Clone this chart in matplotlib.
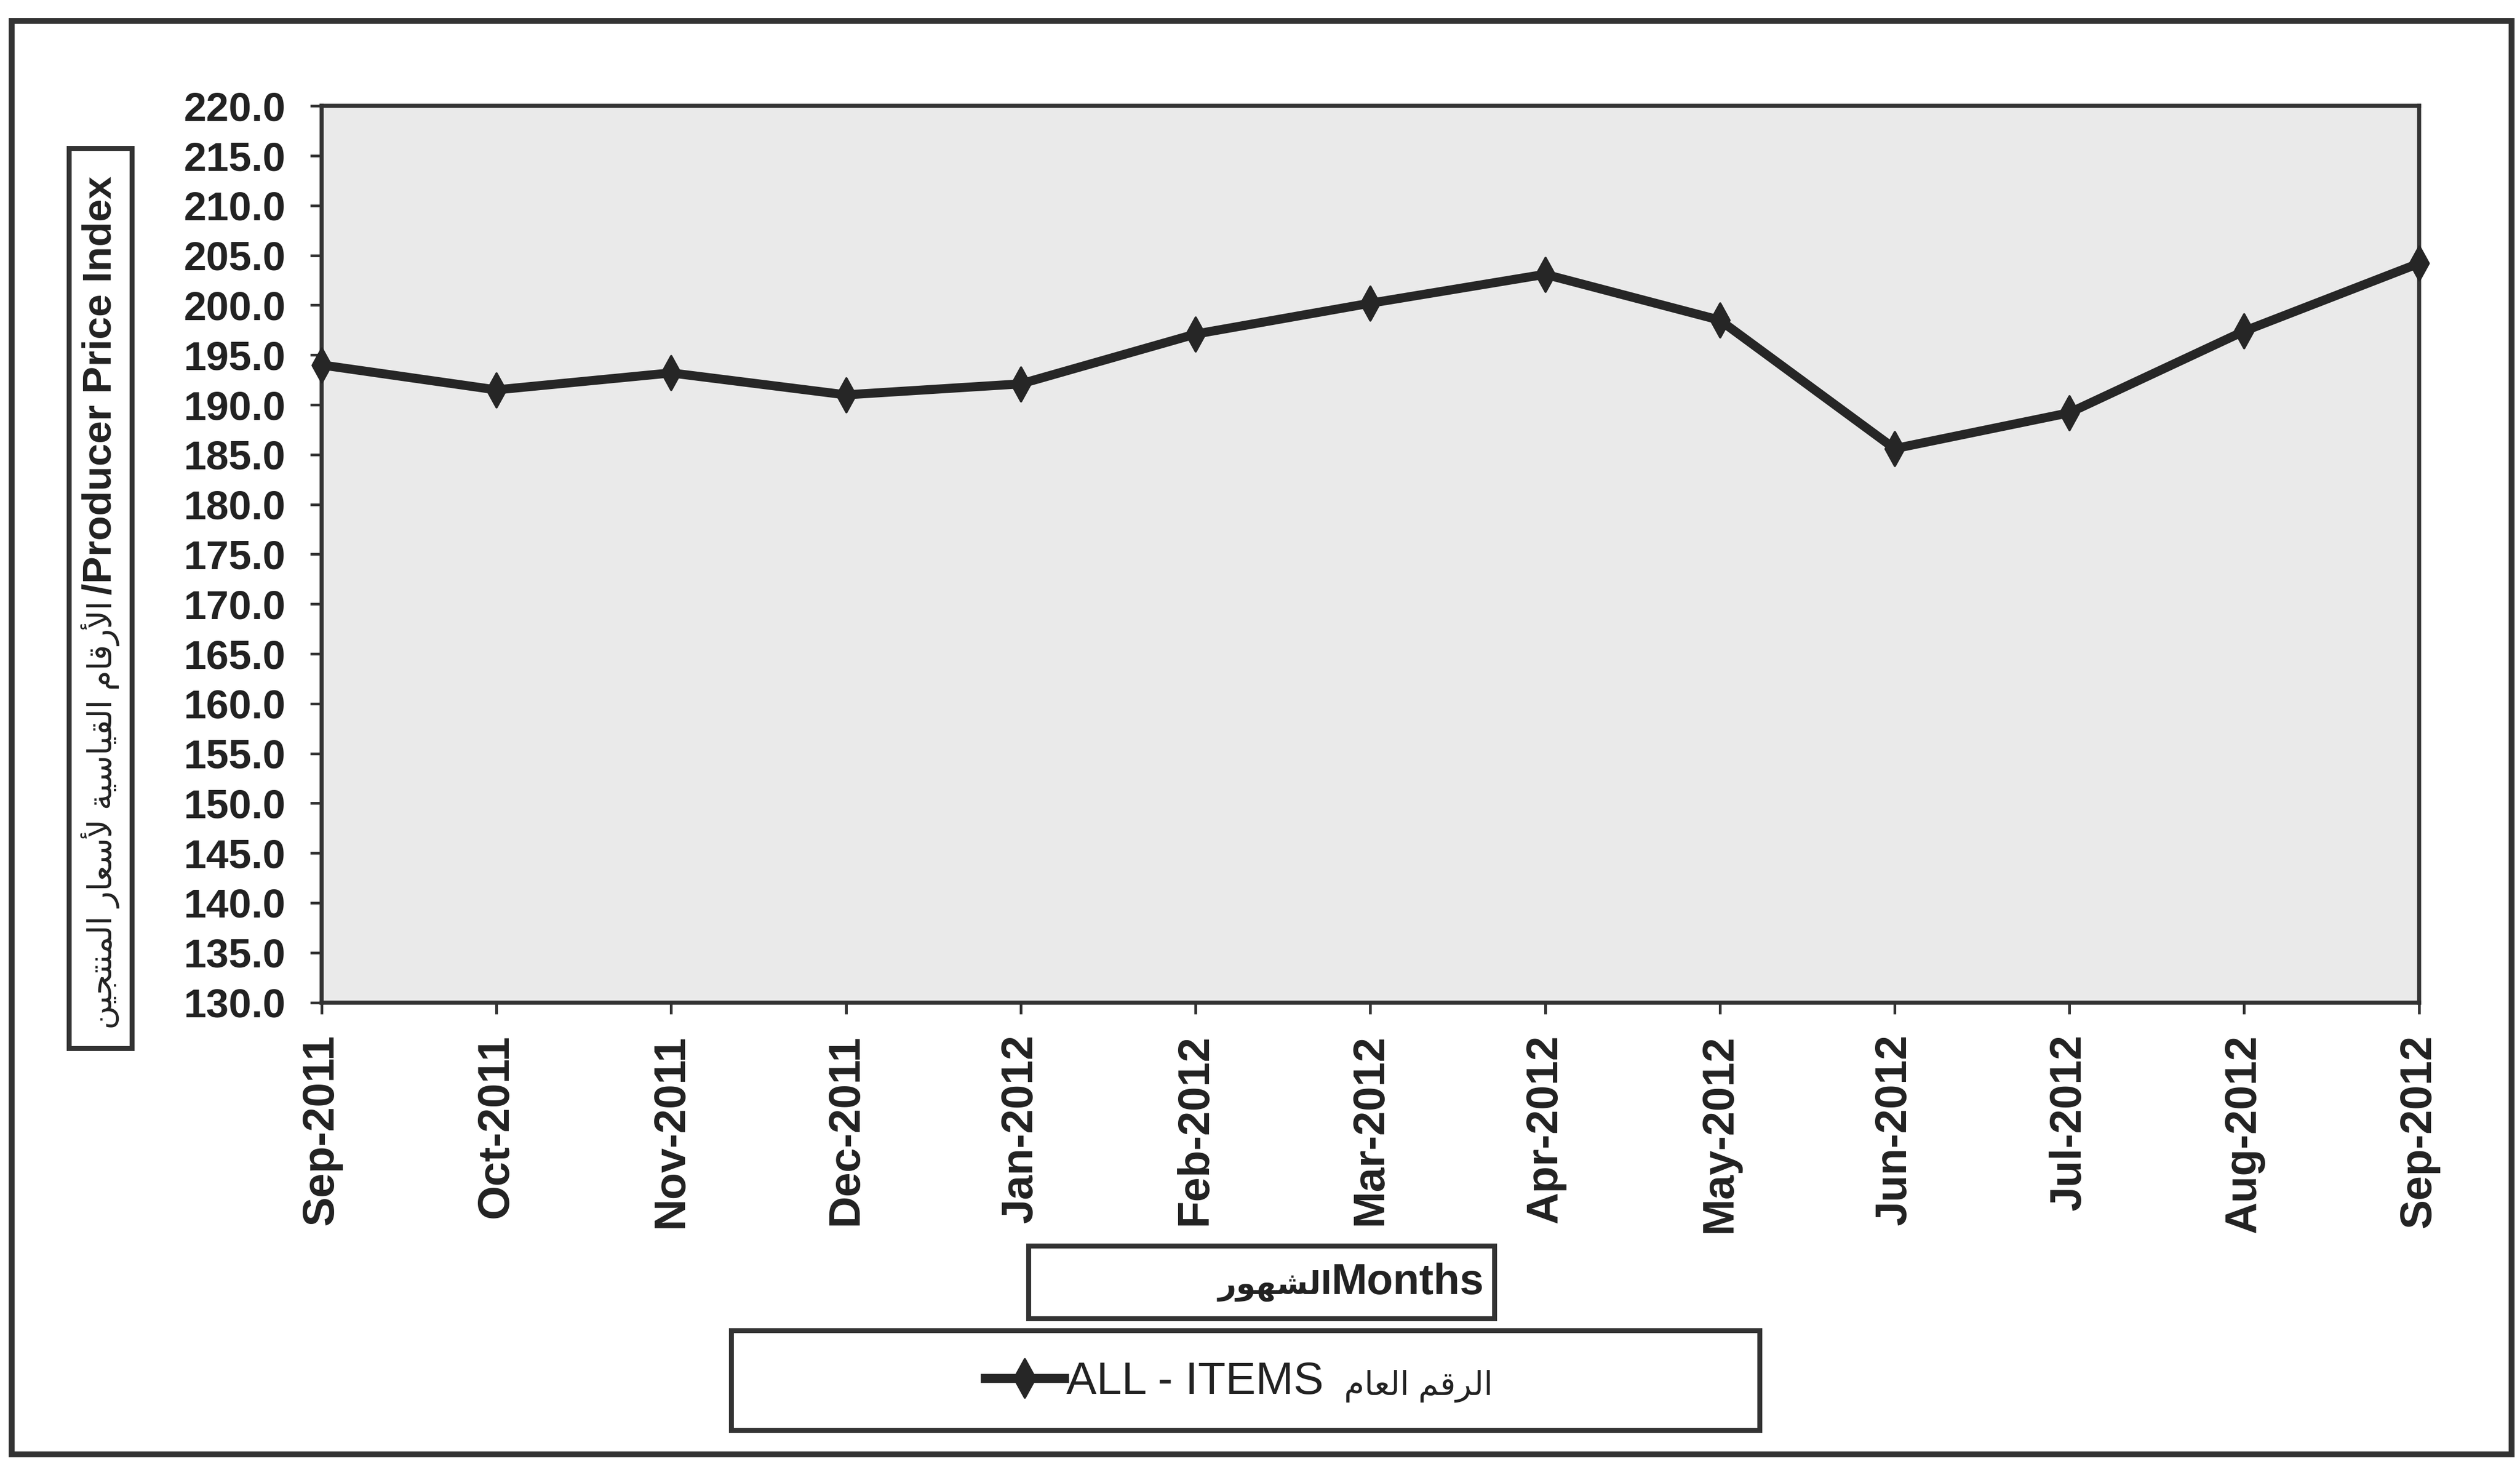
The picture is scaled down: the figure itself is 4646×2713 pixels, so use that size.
import matplotlib
matplotlib.use("Agg")
import matplotlib.pyplot as plt
from matplotlib.patches import Rectangle
from matplotlib.path import Path
from matplotlib.lines import Line2D

# ============ data ============
months = ["Sep-2011", "Oct-2011", "Nov-2011", "Dec-2011", "Jan-2012", "Feb-2012",
          "Mar-2012", "Apr-2012", "May-2012", "Jun-2012", "Jul-2012", "Aug-2012",
          "Sep-2012"]
ppi_all_items = [194.0, 191.5, 193.2, 191.0, 192.1, 197.1, 200.2, 203.1, 198.5,
                 185.6, 189.2, 197.4, 204.2]
y_ticks = [130 + 5 * i for i in range(19)]

ylabel_ar = "الأرقام القياسية لأسعار المنتجين"
ylabel_en = "/Producer Price Index"
xlabel_ar = "الشهور"
xlabel_en = "Months"
legend_en = "ALL - ITEMS"
legend_ar = "الرقم العام"

# ============ Arabic shaping (matplotlib has no RTL / joining) ============
# isolated, final, initial, medial ; None -> letter does not join to the next one
AR_FORMS = {
    "ا": ("\uFE8D", "\uFE8E", None, None),
    "أ": ("\uFE83", "\uFE84", None, None),
    "ر": ("\uFEAD", "\uFEAE", None, None),
    "و": ("\uFEED", "\uFEEE", None, None),
    "ة": ("\uFE93", "\uFE94", None, None),
    "ل": ("\uFEDD", "\uFEDE", "\uFEDF", "\uFEE0"),
    "ق": ("\uFED5", "\uFED6", "\uFED7", "\uFED8"),
    "م": ("\uFEE1", "\uFEE2", "\uFEE3", "\uFEE4"),
    "ي": ("\uFEF1", "\uFEF2", "\uFEF3", "\uFEF4"),
    "س": ("\uFEB1", "\uFEB2", "\uFEB3", "\uFEB4"),
    "ع": ("\uFEC9", "\uFECA", "\uFECB", "\uFECC"),
    "ن": ("\uFEE5", "\uFEE6", "\uFEE7", "\uFEE8"),
    "ت": ("\uFE95", "\uFE96", "\uFE97", "\uFE98"),
    "ج": ("\uFE9D", "\uFE9E", "\uFE9F", "\uFEA0"),
    "ش": ("\uFEB5", "\uFEB6", "\uFEB7", "\uFEB8"),
    "ه": ("\uFEE9", "\uFEEA", "\uFEEB", "\uFEEC"),
    "لا": ("\uFEFB", "\uFEFC", None, None),
    "لأ": ("\uFEF7", "\uFEF8", None, None),
}


def shape_ar(text):
    """Return Arabic text joined and in visual (left-to-right) order."""
    words = []
    for word in text.split(" "):
        units, i = [], 0
        while i < len(word):
            if word[i:i + 2] in AR_FORMS:  # lam-alef ligature
                units.append(word[i:i + 2])
                i += 2
            else:
                units.append(word[i])
                i += 1
        glyphs = []
        for k, u in enumerate(units):
            iso, fin, ini, med = AR_FORMS[u]
            prev = k > 0 and AR_FORMS[units[k - 1]][2] is not None
            nxt = k < len(units) - 1 and ini is not None
            if prev and nxt:
                glyphs.append(med)
            elif prev:
                glyphs.append(fin)
            elif nxt:
                glyphs.append(ini)
            else:
                glyphs.append(iso)
        words.append("".join(glyphs))
    return " ".join(words)[::-1]


plt.rcParams["font.family"] = ["Liberation Sans", "DejaVu Sans"]

# tall thin diamond like the Excel marker
diamond = Path([(0, 1), (0.55, 0), (0, -1), (-0.55, 0), (0, 1)],
               [Path.MOVETO, Path.LINETO, Path.LINETO, Path.LINETO, Path.CLOSEPOLY])
line_col = "#262626"
frame_col = "#333333"
txt_col = "#222222"

fig = plt.figure(figsize=(4646 / 300, 2713 / 300), dpi=300)
fig.patch.set_facecolor("white")

# outer chart frame
fig.patches.append(Rectangle((0.0045, 0.012), 0.992, 0.974, transform=fig.transFigure,
                             fill=False, ec=frame_col, lw=2.6, zorder=0))

ax = fig.add_axes([0.1276, 0.319, 0.8323, 0.609])
ax.set_facecolor("#eaeaea")
x = list(range(len(months)))
ax.plot(x, ppi_all_items, color=line_col, lw=4.0, marker=diamond, markersize=15,
        markerfacecolor=line_col, markeredgecolor=line_col, clip_on=False, zorder=3)

ax.set_xlim(0, len(months) - 1)
ax.set_ylim(130, 220)
ax.set_yticks(y_ticks)
ax.set_yticklabels([f"{v:.1f}" for v in y_ticks], fontsize=18, fontweight="bold")
ax.set_xticks(x)
ax.set_xticklabels(months, rotation=90, fontsize=19.5, fontweight="bold")
ax.tick_params(axis="y", direction="out", length=5, width=1.2, pad=11, colors=frame_col,
               labelcolor=txt_col)
ax.tick_params(axis="x", direction="out", length=5, width=1.2, pad=9, colors=frame_col,
               labelcolor=txt_col)
for s in ax.spines.values():
    s.set_color(frame_col)
    s.set_linewidth(1.8)

# y-axis title in its own box: English part bold, Arabic part smaller
fig.patches.append(Rectangle((0.0273, 0.288), 0.025, 0.6115, transform=fig.transFigure,
                             fill=False, ec=frame_col, lw=2.2))
fig.text(0.0398, 0.596, ylabel_en, rotation=90, ha="center", va="bottom",
         fontsize=18, fontweight="bold", color=txt_col)
fig.text(0.0398, 0.592, shape_ar(ylabel_ar), rotation=90, ha="center", va="top",
         fontsize=14.5, color=txt_col)

# x-axis title box
fig.patches.append(Rectangle((0.408, 0.1043), 0.185, 0.0494, transform=fig.transFigure,
                             fill=False, ec=frame_col, lw=2.2))
t_months = fig.text(0.589, 0.121, xlabel_en, ha="right", va="baseline",
                    fontsize=19, fontweight="bold", color=txt_col)

# legend box
fig.patches.append(Rectangle((0.2902, 0.0284), 0.4081, 0.0677, transform=fig.transFigure,
                             fill=False, ec=frame_col, lw=2.2))
handle = Line2D([], [], color=line_col, lw=4.0, marker=diamond, markersize=17,
                markerfacecolor=line_col, markeredgecolor=line_col)
leg = fig.legend([handle], [legend_en], loc="center left",
                 bbox_to_anchor=(0.382, 0.0611), frameon=False, fontsize=20,
                 handlelength=1.75, handletextpad=0.05, borderpad=0,
                 labelcolor=txt_col)

# Arabic parts placed next to the measured English text
fig.canvas.draw()
inv = fig.transFigure.inverted()
bb = t_months.get_window_extent().transformed(inv)
fig.text(bb.x0, 0.121, shape_ar(xlabel_ar), ha="right", va="baseline",
         fontsize=14, fontweight="bold", color=txt_col)
bb = leg.get_texts()[0].get_window_extent().transformed(inv)
fig.text(bb.x1 + 0.008, bb.y0 + 0.2 * (bb.y1 - bb.y0), shape_ar(legend_ar), ha="left",
         va="baseline", fontsize=14.5, color=txt_col)

fig.savefig("out.png", dpi=300)
